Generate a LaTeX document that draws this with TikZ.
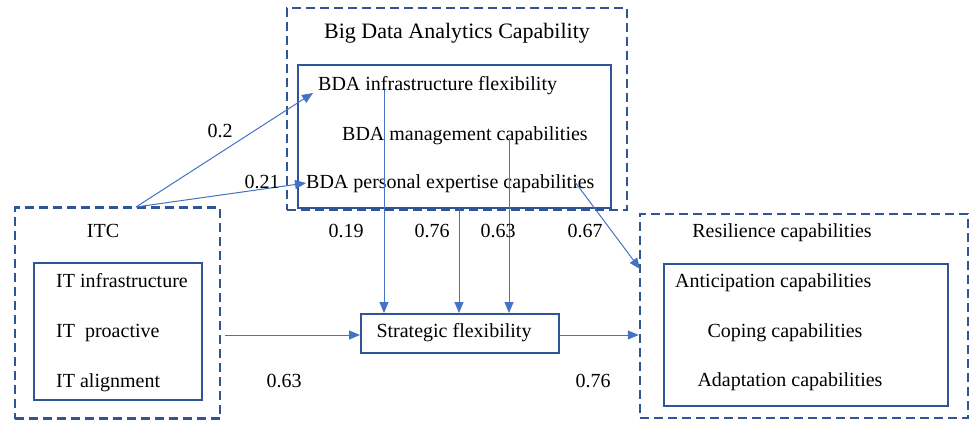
\documentclass[tikz,border=0pt]{standalone}
\usepackage{fontspec}
\setmainfont{Liberation Serif}
\newfontfamily\timesfont{Liberation Serif}
\usetikzlibrary{arrows.meta}
\definecolor{dblue}{HTML}{2F5597}
\definecolor{lblue}{HTML}{4472C4}
\tikzset{
  outerbox/.style={draw=dblue, line width=2.5pt, dash pattern=on 9pt off 5pt, inner sep=0},
  innerbox/.style={draw=dblue, line width=2pt, inner sep=0},
  txt/.style={font=\timesfont\fontsize{20}{24}\selectfont, inner sep=0, text height=14pt, text depth=4pt},
  conn/.style={draw=lblue, line width=1pt},
  arr/.style={conn, -{Triangle[length=11pt,width=9pt]}},
}
\begin{document}
\begin{tikzpicture}[x=1pt,y=-1pt]
\useasboundingbox (0,0) rectangle (970,421);
% ITC
\node[outerbox, minimum width=205pt, minimum height=211pt] (itcout) at (117.5,313) {};
\node[innerbox, minimum width=168pt, minimum height=137pt] (itcin) at (118,331.5) {};
\node[txt] (itc) at (103,232) {ITC};
\node[txt, anchor=west] (it1) at (56,282) {IT infrastructure};
\node[txt, anchor=west] (it2) at (56,332) {IT\ \ proactive};
\node[txt, anchor=west] (it3) at (56,382) {IT alignment};
% BDA
\node[outerbox, minimum width=340pt, minimum height=202pt] (bdaout) at (457,109) {};
\node[innerbox, minimum width=313pt, minimum height=143pt] (bdain) at (454.5,136.5) {};
\node[txt, font=\timesfont\fontsize{22}{26}\selectfont] (bdat) at (457,33) {Big Data Analytics Capability};
\node[txt, anchor=west] (bda1) at (318,85) {BDA infrastructure flexibility};
\node[txt, anchor=west] (bda2) at (342,135) {BDA management capabilities};
\node[txt, anchor=west] (bda3) at (306,183) {BDA personal expertise capabilities};
% Strategic flexibility
\node[innerbox, minimum width=198pt, minimum height=39pt] (sf) at (460,333.5) {};
\node[txt] (sft) at (454,332) {Strategic flexibility};
% Resilience
\node[outerbox, minimum width=328pt, minimum height=204pt] (resout) at (804,316) {};
\node[innerbox, minimum width=284pt, minimum height=142pt] (resin) at (806,335) {};
\node[txt] (rest) at (782,232) {Resilience capabilities};
\node[txt, anchor=west] (r1) at (675,282) {Anticipation capabilities};
\node[txt] (r2) at (785,332) {Coping capabilities};
\node[txt] (r3) at (790,381) {Adaptation capabilities};
% coordinates
\coordinate (itctop) at (136,207);
\coordinate (a1end) at (313,93);
\coordinate (v1s) at (384,90);
\coordinate (v3s) at (509,138);
\coordinate (dgs) at (575,182);
\coordinate (dge) at (640,269);
\coordinate (hs) at (225,335);
% connectors
\draw[arr] (itctop) -- (a1end);
\draw[arr] (itctop) -- (bda3.west);
\draw[arr] (v1s) -- (v1s |- sf.north);
\draw[arr] (bdain.south -| 459,0) -- (459,0 |- sf.north);
\draw[arr] (v3s) -- (v3s |- sf.north);
\draw[arr] (dgs) -- (dge);
\draw[arr] (hs) -- (hs -| sf.west);
\draw[arr] (sf.east |- 0,335) -- (resout.west |- 0,335);
% labels
\node[txt] (l1) at (220,132) {0.2};
\node[txt] (l2) at (262,183) {0.21};
\node[txt] (l3) at (346,232) {0.19};
\node[txt] (l4) at (432,232) {0.76};
\node[txt] (l5) at (498,232) {0.63};
\node[txt] (l6) at (585,232) {0.67};
\node[txt] (l7) at (284,382) {0.63};
\node[txt] (l8) at (593,382) {0.76};
\end{tikzpicture}
\end{document}
